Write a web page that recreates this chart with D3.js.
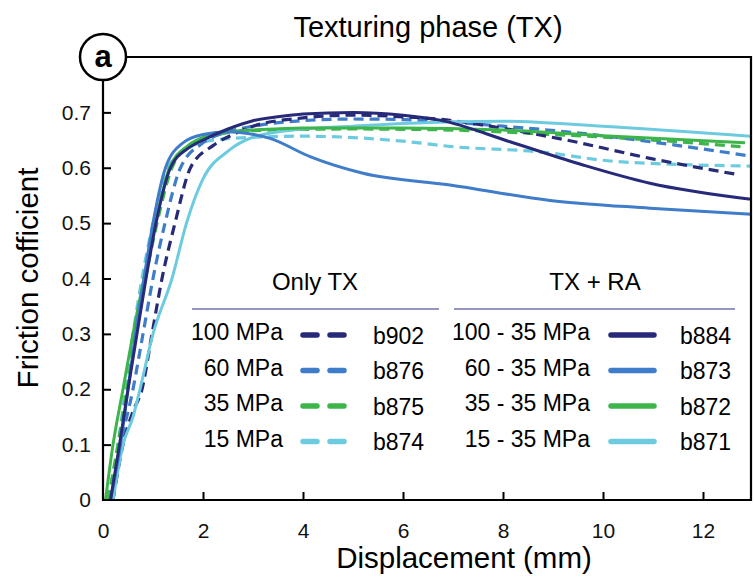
<!DOCTYPE html>
<html><head><meta charset="utf-8">
<script src="https://cdn.jsdelivr.net/npm/d3@7"></script>
<style>body{margin:0;background:#fff}svg{display:block;font-family:"Liberation Sans",Arial,sans-serif}</style>
</head><body><svg id="c" width="754" height="579"></svg>
<script>
// ---- data ----
const xTicks = [0, 2, 4, 6, 8, 10, 12];
const yTicks = [0, 0.1, 0.2, 0.3, 0.4, 0.5, 0.6, 0.7];
const seriesIds = ["b902", "b876", "b875", "b874", "b884", "b873", "b872", "b871"];
const seriesLabels = ["100 MPa", "60 MPa", "35 MPa", "15 MPa", "100 - 35 MPa", "60 - 35 MPa", "35 - 35 MPa", "15 - 35 MPa"];
const seriesDashed = [true, true, true, true, false, false, false, false];
const seriesColors = ["#262a78", "#3f7cc9", "#3db54a", "#6dcbe0", "#262a78", "#3f7cc9", "#3db54a", "#6dcbe0"];
// [displacement (mm), friction coefficient]
const b902 = [[0.2,0],[0.4,0.1],[0.6,0.16],[0.78,0.2],[0.98,0.3],[1.18,0.4],[1.44,0.5],[1.75,0.6],[2.2,0.64],[2.6,0.66],[3,0.675],[4,0.69],[5,0.695],[6,0.692],[7,0.685],[7.6,0.677],[9.27,0.65],[10.94,0.617],[12.74,0.587]];
const b876 = [[0.15,0],[0.35,0.1],[0.6,0.2],[0.8,0.3],[1.0,0.4],[1.24,0.5],[1.55,0.6],[2,0.645],[2.5,0.665],[3,0.675],[4,0.685],[5,0.688],[6,0.687],[7,0.682],[8,0.675],[9.27,0.665],[10.94,0.647],[12.96,0.621]];
const b875 = [[0.1,0],[0.3,0.1],[0.48,0.2],[0.65,0.3],[0.85,0.4],[1.08,0.5],[1.38,0.6],[1.8,0.645],[2.3,0.66],[3,0.667],[5,0.67],[7,0.668],[9,0.66],[11,0.65],[12.75,0.638]];
const b874 = [[0.1,0],[0.3,0.1],[0.45,0.2],[0.6,0.3],[0.78,0.4],[1.0,0.5],[1.3,0.6],[1.7,0.635],[2.2,0.65],[3,0.655],[4,0.657],[6,0.648],[7,0.638],[8.7,0.629],[10.3,0.611],[12.96,0.603]];
const b884 = [[0.15,0],[0.33,0.1],[0.5,0.2],[0.68,0.3],[0.86,0.4],[1.06,0.5],[1.35,0.6],[1.7,0.635],[2,0.65],[2.5,0.67],[3,0.685],[3.5,0.692],[4,0.697],[5,0.7],[6,0.695],[6.74,0.686],[8.14,0.647],[9.6,0.605],[10.94,0.572],[12.96,0.543]];
const b873 = [[0.15,0],[0.35,0.1],[0.5,0.2],[0.65,0.3],[0.82,0.4],[1.0,0.5],[1.25,0.6],[1.6,0.645],[2,0.66],[2.5,0.665],[2.9,0.662],[3.34,0.653],[4.14,0.62],[5.2,0.59],[6.94,0.569],[8.94,0.541],[10.94,0.527],[12.96,0.516]];
const b872 = [[0.05,0],[0.2,0.1],[0.4,0.2],[0.6,0.3],[0.82,0.4],[1.05,0.5],[1.33,0.6],[1.7,0.64],[2,0.655],[2.5,0.665],[3,0.668],[4,0.672],[6,0.672],[8,0.668],[10,0.658],[12.84,0.645]];
const b871 = [[0.2,0],[0.4,0.1],[0.6,0.15],[0.74,0.2],[1.0,0.3],[1.38,0.4],[1.67,0.5],[2.0,0.58],[2.5,0.63],[3,0.655],[4,0.67],[5,0.675],[6,0.68],[8,0.684],[10,0.675],[12.96,0.657]];
const seriesData = [b902, b876, b875, b874, b884, b873, b872, b871];

// ---- layout ----
const svg = d3.select("#c");
const L = 103, R = 751, T = 57, B = 500;
const x = d3.scaleLinear().domain([0, 12.96]).range([L, R]);
const y = d3.scaleLinear().domain([0, 0.8]).range([B, T]);

svg.append("defs").append("clipPath").attr("id","clip")
  .append("rect").attr("x", L).attr("y", T).attr("width", R-L).attr("height", B-T);

// curves
const line = d3.line().x(d => x(d[0])).y(d => y(d[1])).curve(d3.curveMonotoneX);
const drawOrder = [3, 2, 1, 0, 7, 6, 5, 4];
const g = svg.append("g").attr("clip-path","url(#clip)");
drawOrder.forEach(i => {
  g.append("path").attr("d", line(seriesData[i]))
    .attr("fill","none").attr("stroke", seriesColors[i])
    .attr("stroke-width", seriesDashed[i] ? 3.2 : 3)
    .attr("stroke-dasharray", seriesDashed[i] ? "10,6" : null)
    .attr("stroke-linejoin","round");
});

// axes
const xAxis = d3.axisBottom(x).tickValues(xTicks).tickSize(-8).tickPadding(23).tickFormat(d3.format("d"));
const gx = svg.append("g").attr("transform", `translate(0,${B})`).call(xAxis);
const yAxis = d3.axisLeft(y).tickValues(yTicks).tickSize(-8).tickPadding(12).tickFormat(d => d === 0 ? "0" : d3.format(".1f")(d));
const gy = svg.append("g").attr("transform", `translate(${L},0)`).call(yAxis);
[gx, gy].forEach(a => {
  a.select(".domain").remove();
  a.selectAll(".tick line").attr("stroke","#000").attr("stroke-width",2);
  a.selectAll(".tick text").attr("font-size",21).attr("fill","#111").attr("font-family","Liberation Sans, Arial, sans-serif");
});
gx.selectAll(".tick").filter(d => d === 0).select("line").remove();
gy.selectAll(".tick").filter(d => d === 0).select("line").remove();

// frame
const cx = L, cy = T, cr = 23;
svg.append("path").attr("d", `M${cx+cr},${T}H${R}V${B}H${L}V${cy+cr}`)
  .attr("fill","none").attr("stroke","#000").attr("stroke-width",2.2);
svg.append("circle").attr("cx",cx).attr("cy",cy).attr("r",cr)
  .attr("fill","#fff").attr("stroke","#000").attr("stroke-width",2.5);
svg.append("text").attr("x",cx).attr("y",cy+10).attr("text-anchor","middle")
  .attr("font-size",31).attr("font-weight","bold").text("a");

// titles
svg.append("text").attr("x",428).attr("y",37).attr("text-anchor","middle").attr("font-size",29).text("Texturing phase (TX)");
svg.append("text").attr("x",464).attr("y",568).attr("text-anchor","middle").attr("font-size",29.5).text("Displacement (mm)");
svg.append("text").attr("transform","translate(38,278) rotate(-90)").attr("text-anchor","middle").attr("font-size",29.5).text("Friction cofficient");

// legend
const leg = svg.append("g");
leg.append("text").attr("x",315).attr("y",290).attr("text-anchor","middle").attr("font-size",24).text("Only TX");
leg.append("text").attr("x",595).attr("y",290).attr("text-anchor","middle").attr("font-size",24).text("TX + RA");
leg.append("line").attr("x1",192).attr("x2",439).attr("y1",309).attr("y2",309).attr("stroke","#2b2f80").attr("stroke-width",1.2);
leg.append("line").attr("x1",454).attr("x2",735).attr("y1",309).attr("y2",309).attr("stroke","#2b2f80").attr("stroke-width",1.2);
const rowY = [340, 375.5, 411, 446.5];
seriesIds.forEach((id, i) => {
  const left = i < 4;
  const r = i % 4;
  const yy = rowY[r];
  const labelX = left ? 283 : 590;
  const l1 = left ? 303 : 611, l2 = left ? 344 : 654;
  const idX = left ? 373 : 680;
  leg.append("text").attr("x",labelX).attr("y",yy).attr("text-anchor","end").attr("font-size",23).text(seriesLabels[i]);
  leg.append("line").attr("x1",l1).attr("x2",l2).attr("y1",yy-5).attr("y2",yy-5)
    .attr("stroke",seriesColors[i]).attr("stroke-width",5.5).attr("stroke-linecap","round")
    .attr("stroke-dasharray", seriesDashed[i] ? "14,13" : null);
  leg.append("text").attr("x",idX).attr("y",yy+3.5).attr("font-size",23).text(id);
});
</script></body></html>
